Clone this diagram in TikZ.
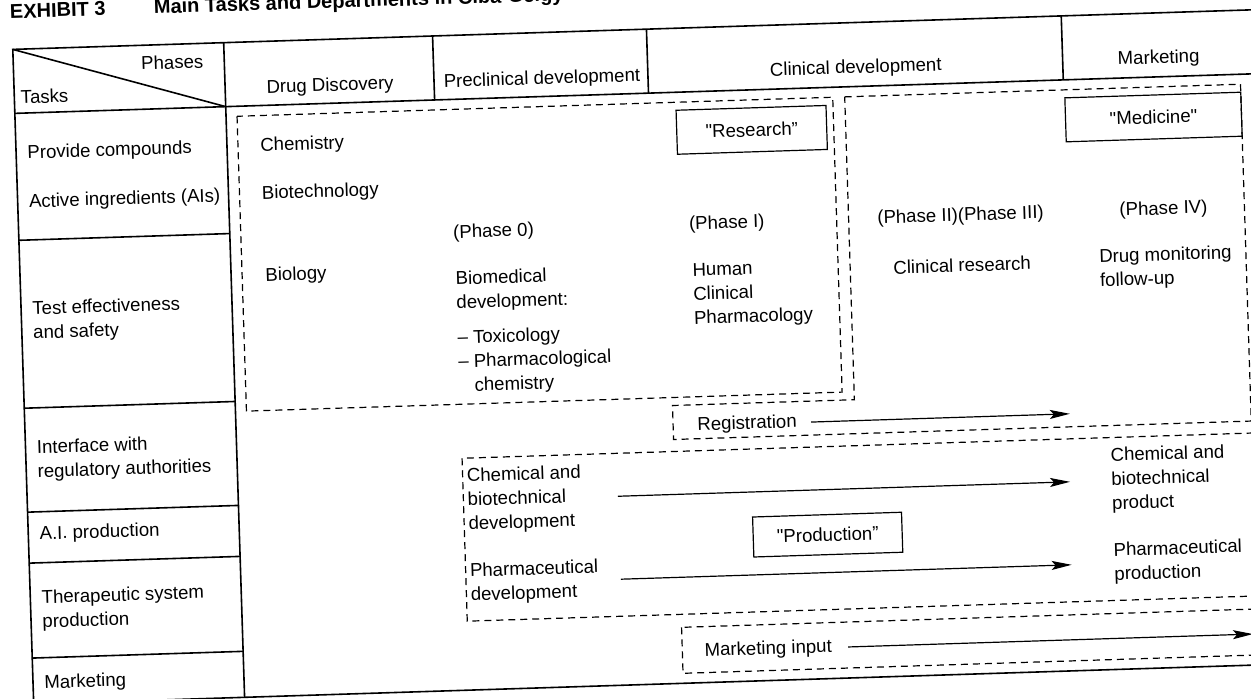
\documentclass[tikz,border=0pt]{standalone}
\usepackage{fontspec}
\setmainfont{Liberation Sans}
\newfontfamily\plainsans{Liberation Sans}
\newcommand{\qstraight}{{\plainsans"}}
\usetikzlibrary{arrows.meta}

\begin{document}
\begin{tikzpicture}[x=0.5pt,y=-0.5pt,
                    every node/.style={inner sep=0pt,font=\fontsize{9.3}{12}\selectfont},
                    lbl/.style={anchor=west,align=left},
                    title/.style={anchor=base west,font=\fontsize{10}{12}\selectfont\bfseries},
                    grid/.style={line width=0.8pt},
                    dept/.style={line width=0.6pt,dash pattern=on 3.5pt off 2.5pt},
                    tag/.style={draw,line width=0.6pt,minimum height=22pt},
                    flow/.style={line width=0.6pt,-{Stealth[length=10pt,width=4.5pt,inset=2pt]}}]
    \useasboundingbox (0,0) rectangle (1251,698);
    \begin{scope}[rotate around={1.83:(625,360)},transform shape]
        \node[title] (exhibit) at (21,-1) {EXHIBIT 3};
        \node[title] (heading) at (165,-1) {Main Tasks and Departments in Ciba-Geigy};

        % table frame
        \draw[grid] (23,30) rectangle (1268,685);
        \draw[grid] (23,94) -- (1268,94);
        \draw[grid] (23,30) -- (234,94);
        \draw[grid] (234,30) -- (234,685);
        \foreach \x in {443,657,1072}
            \draw[grid] (\x,30) -- (\x,94);
        \foreach \y in {221,389,493,544,639}
            \draw[grid] (23,\y) -- (234,\y);

        \node (phases) at (182,48) {Phases};
        \node[lbl] (tasks) at (29,78) {Tasks};
        \node (discovery) at (339,77) {Drug Discovery};
        \node (preclinical) at (551,77) {Preclinical development};
        \node (clinical) at (865,76) {Clinical development};
        \node (marketing) at (1168,76) {Marketing};

        \node[lbl] (provide) at (34,135) {Provide compounds};
        \node[lbl] (active) at (34,184) {Active ingredients (AIs)};
        \node[lbl] (test) at (34,303) {Test effectiveness\\and safety};
        \node[lbl] (iface) at (34,442) {Interface with\\regulatory authorities};
        \node[lbl] (aiprod) at (34,516) {A.I. production};
        \node[lbl] (therap) at (34,592) {Therapeutic system\\production};
        \node[lbl] (mkt) at (34,665) {Marketing};

        % departments
        \draw[dept] (245,104) rectangle (841,399);
        \draw[dept] (853,104) -- (1249,104) -- (1249,441) -- (671,441)
                    -- (671,407) -- (853,407) -- cycle;
        \draw[dept] (459,453) rectangle (1280,616);
        \draw[dept] (673,629) rectangle (1280,675);

        \node[tag,minimum width=75pt] (research) at (759,134) {\qstraight Research”};
        \node[tag,minimum width=88pt] (medicine) at (1161,134) {\qstraight Medicine\qstraight};
        \node[tag,minimum width=74.5pt,minimum height=20pt] (production) at (822,541) {\qstraight Production”};

        \node[lbl] (chem) at (267,135) {Chemistry};
        \node[lbl] (biotech) at (267,183) {Biotechnology};
        \node[lbl] (biology) at (268,265) {Biology};
        \node[lbl] (phase0) at (457,228) {(Phase 0)};
        \node[lbl] (biomed) at (458,328) {Biomedical\\development:\\[5.5pt]-- Toxicology\\-- Pharmacological\\\phantom{-- }chemistry};
        \node[lbl] (phase1) at (693,227) {(Phase I)};
        \node[lbl] (human) at (695,298) {Human\\Clinical\\Pharmacology};
        \node (phase23) at (965,227) {(Phase II)(Phase III)};
        \node (clinres) at (965,276) {Clinical research};
        \node (phase4) at (1168,227) {(Phase IV)};
        \node[lbl] (drugmon) at (1102,285) {Drug monitoring\\follow-up};

        \node[lbl] (regis) at (695,428) {Registration};
        \coordinate (regEnd) at (1068,428);
        \draw[flow,shorten <=7pt] (regis) -- (regEnd);

        \node[lbl] (chemdev) at (463,496) {Chemical and\\biotechnical\\development};
        \node[lbl] (chemprod) at (1107,496) {Chemical and\\biotechnical\\product};
        \draw[flow,shorten <=18pt,shorten >=20.5pt] (chemdev) -- (chemprod);

        \node[lbl] (pharmdev) at (463,579) {Pharmaceutical\\development};
        \node[lbl] (pharmprod) at (1107,579) {Pharmaceutical\\production};
        \draw[flow,shorten <=11pt,shorten >=21pt] (pharmdev) -- (pharmprod);

        \node[lbl] (mktinput) at (695,654) {Marketing input};
        \coordinate (mktEnd) at (1244,654);
        \draw[flow,shorten <=8pt] (mktinput) -- (mktEnd);
    \end{scope}
\end{tikzpicture}
\end{document}
